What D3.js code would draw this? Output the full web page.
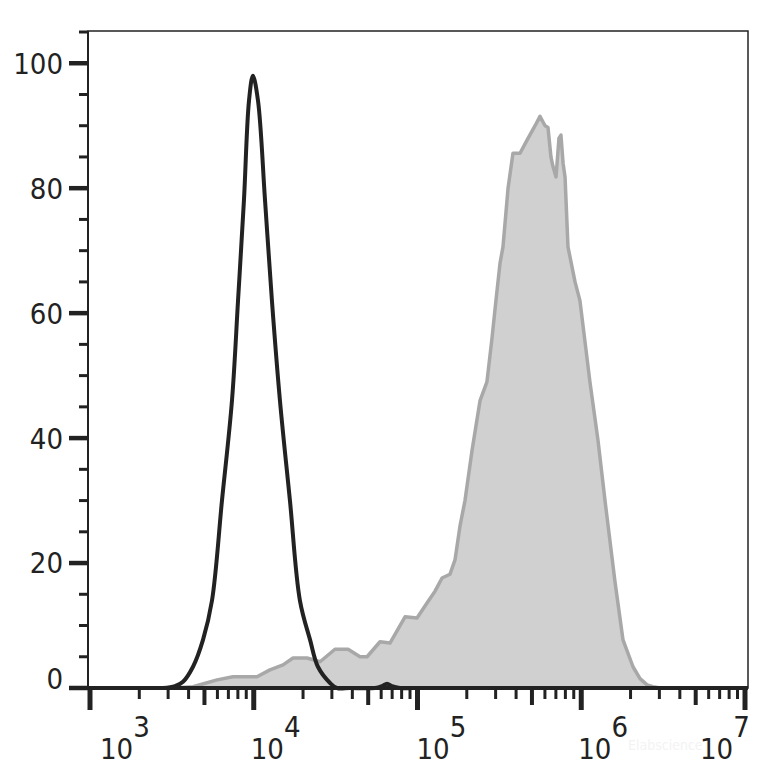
<!DOCTYPE html>
<html>
<head>
<meta charset="utf-8">
<script src="https://cdn.jsdelivr.net/npm/d3@7"></script>
<style>
  body { margin: 0; background: #fff; }
  text { font-family: "DejaVu Sans Condensed", "DejaVu Sans", sans-serif; font-stretch: condensed; fill: #222; }
</style>
</head>
<body>
<div id="chart"></div>
<script>
// log10 of fluorescence intensity, and % of max
const blackLog = [3.446, 3.519, 3.568, 3.629, 3.690, 3.745, 3.806, 3.867, 3.904, 3.940, 3.971, 3.995,
    4.026, 4.069, 4.111, 4.160, 4.221, 4.282, 4.344, 4.392, 4.466, 4.508, 4.588, 4.740, 4.783, 4.814,
    4.844, 4.893, 4.973]
const blackPct = [0, 0.3, 1, 3.4, 7.7, 14, 30, 46, 62, 78, 94, 98,
    94, 78, 62, 46, 30, 14, 7.7, 3.4, 0.8, 0, 0, 0, 0.3, 0.7,
    0.3, 0, 0]

const grayLog = [3.507, 3.629, 3.776, 3.873, 4.020, 4.099, 4.179, 4.240, 4.325, 4.405, 4.496, 4.576,
    4.649, 4.692, 4.771, 4.832, 4.924, 4.997, 5.058, 5.107, 5.150, 5.198, 5.229, 5.260, 5.290, 5.333,
    5.382, 5.424, 5.455, 5.479, 5.504, 5.522, 5.553, 5.583, 5.626, 5.669, 5.718, 5.748, 5.779, 5.797,
    5.815, 5.827, 5.846, 5.864, 5.876, 5.889, 5.901, 5.919, 5.962, 5.992, 6.053, 6.102, 6.145, 6.206,
    6.255, 6.316, 6.359, 6.402, 6.438, 6.481]
const grayPct = [0, 0.2, 1.3, 1.8, 1.8, 2.9, 3.7, 4.8, 4.8, 4.2, 6.2, 6.2,
    5, 5, 7.4, 7.2, 11.4, 11.2, 13.6, 15.5, 17.6, 18.2, 20.5, 26, 30, 38,
    46, 49, 56, 62, 68, 70.6, 80, 85.6, 85.6, 87.7, 90, 91.5, 90, 89.7,
    85, 83.5, 81.8, 88, 88.5, 84, 81.8, 70.6, 65, 62, 49, 39.7, 30, 17,
    7.7, 3.4, 1.5, 0.5, 0.2, 0]

const xMajor = [3, 4, 5, 6, 7]
const yMajor = [0, 20, 40, 60, 80, 100]

const W = 779, H = 780
const svg = d3.select("#chart").append("svg").attr("width", W).attr("height", H)

const x = d3.scaleLog().domain([1e3, 1e7]).range([90, 745])
const y = d3.scaleLinear().domain([0, 105]).range([688, 32])

// frame
svg.append("rect").attr("x", 88).attr("y", 31).attr("width", 660).attr("height", 657)
    .attr("fill", "none").attr("stroke", "#222").attr("stroke-width", 1.5)

const gray = grayLog.map((e, i) => [Math.pow(10, e), grayPct[i]])
const black = blackLog.map((e, i) => [Math.pow(10, e), blackPct[i]])

const area = d3.area().x(d => x(d[0])).y0(y(0)).y1(d => y(d[1]))
const line = d3.line().x(d => x(d[0])).y(d => y(d[1])).curve(d3.curveCatmullRom.alpha(0.5))

svg.append("path").datum(gray).attr("d", area).attr("fill", "#d0d0d0")
svg.append("path").datum(gray).attr("d", d3.line().x(d => x(d[0])).y(d => y(d[1])))
    .attr("fill", "none").attr("stroke", "#a8a8a8").attr("stroke-width", 3.5).attr("stroke-linejoin", "round")
svg.append("path").datum(black).attr("d", line)
    .attr("fill", "none").attr("stroke", "#222").attr("stroke-width", 4).attr("stroke-linejoin", "round")

// y axis
svg.append("line").attr("x1", 88).attr("x2", 88).attr("y1", 31).attr("y2", 688)
    .attr("stroke", "#222").attr("stroke-width", 2)
const yMinor = d3.range(0, 106, 5).filter(v => v % 20 !== 0)
svg.selectAll(".ymin").data(yMinor).enter().append("line")
    .attr("x1", 79).attr("x2", 88).attr("y1", d => y(d)).attr("y2", d => y(d))
    .attr("stroke", "#222").attr("stroke-width", 3)
svg.selectAll(".ymaj").data(yMajor).enter().append("line")
    .attr("x1", 69).attr("x2", 88).attr("y1", d => y(d)).attr("y2", d => y(d))
    .attr("stroke", "#222").attr("stroke-width", 4.5)
svg.selectAll(".ylab").data(yMajor).enter().append("text")
    .attr("x", 63).attr("y", d => d === 0 ? y(d) - 9 : y(d))
    .attr("dy", "0.36em").attr("text-anchor", "end").attr("font-size", 29)
    .text(d => d)

// x axis
svg.append("line").attr("x1", 88).attr("x2", 748).attr("y1", 688).attr("y2", 688)
    .attr("stroke", "#222").attr("stroke-width", 4)
const xMinor = []
for (let e = 3; e < 7; e++) for (let m = 2; m <= 9; m++) xMinor.push(m * Math.pow(10, e))
svg.selectAll(".xmin").data(xMinor).enter().append("line")
    .attr("x1", d => x(d)).attr("x2", d => x(d)).attr("y1", 688)
    .attr("y2", d => String(d)[0] === "5" ? 705 : 699)
    .attr("stroke", "#222").attr("stroke-width", d => String(d)[0] === "5" ? 4 : 3)
svg.selectAll(".xmaj").data(xMajor).enter().append("line")
    .attr("x1", d => x(Math.pow(10, d))).attr("x2", d => x(Math.pow(10, d)))
    .attr("y1", 688).attr("y2", 710)
    .attr("stroke", "#222").attr("stroke-width", 5)

const labShift = { 3: 10, 4: -3, 5: -1, 6: -3, 7: -45 }
const xl = svg.selectAll(".xlab").data(xMajor).enter().append("text")
    .attr("x", d => x(Math.pow(10, d)) + labShift[d]).attr("y", 759).attr("font-size", 29)
xl.append("tspan").text("10")
xl.append("tspan").attr("dy", -22).text(d => d)

// faint watermark
svg.append("text").attr("x", 628).attr("y", 750).attr("font-size", 14)
    .style("fill", "#f3f3f3").text("Elabscience")
</script>
</body>
</html>
